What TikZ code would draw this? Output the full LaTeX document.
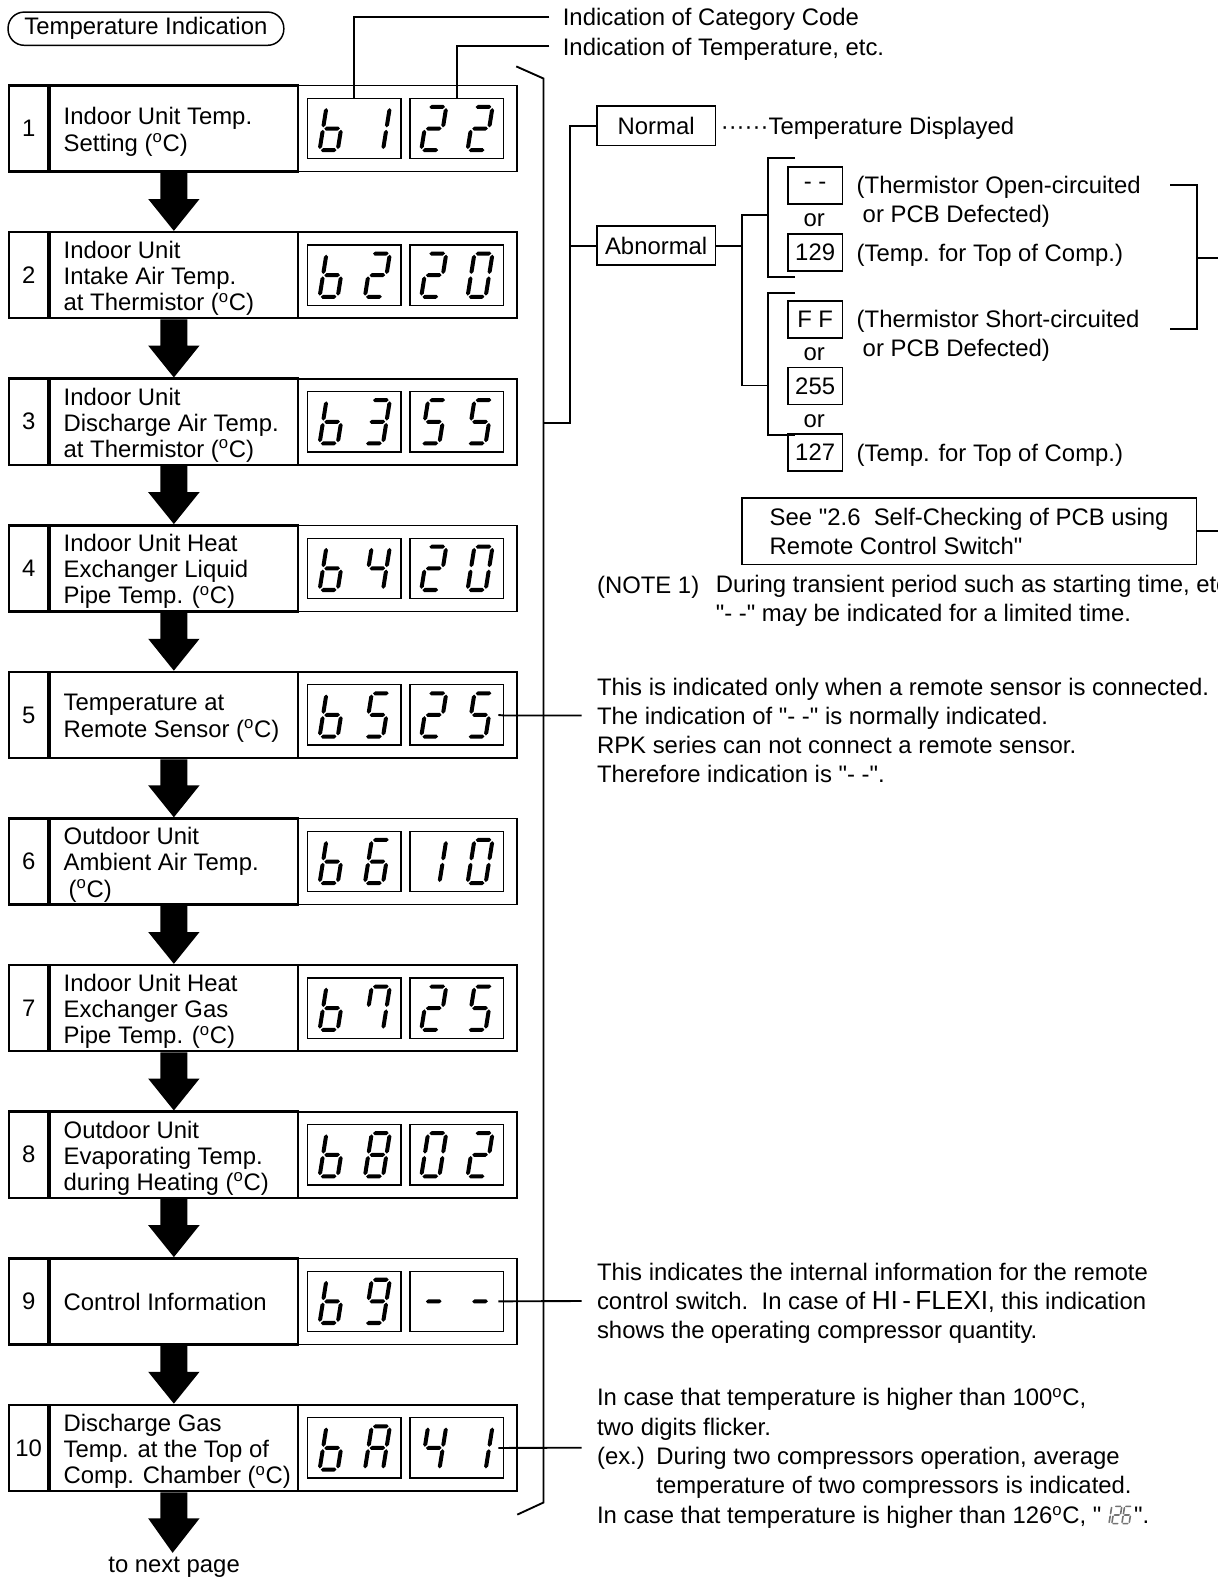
\documentclass[tikz,border=0pt]{standalone}
\usepackage{fontspec}
\setmainfont{Liberation Sans}
\usetikzlibrary{calc}

\newcommand\degC{\textsuperscript{o}C}
\newcommand\qmark{\textquotedbl}

% seven-segment strokes (local units, y pointing down)
\newcommand\SSa{\fill (-7.8,-21.5) -- (-5.8,-23.5) -- (5.8,-23.5) -- (7.8,-21.5) -- (5.8,-19.5) -- (-5.8,-19.5) -- cycle;}
\newcommand\SSg{\fill (-7.8,0) -- (-5.8,-2) -- (5.8,-2) -- (7.8,0) -- (5.8,2) -- (-5.8,2) -- cycle;}
\newcommand\SSd{\fill (-7.8,21.5) -- (-5.8,19.5) -- (5.8,19.5) -- (7.8,21.5) -- (5.8,23.5) -- (-5.8,23.5) -- cycle;}
\newcommand\SSf{\fill (-9,-20.3) -- (-7,-18.3) -- (-7,-3.2) -- (-9,-1.2) -- (-11,-3.2) -- (-11,-18.3) -- cycle;}
\newcommand\SSe{\fill (-9,1.2) -- (-7,3.2) -- (-7,18.3) -- (-9,20.3) -- (-11,18.3) -- (-11,3.2) -- cycle;}
\newcommand\SSb{\fill (9,-20.3) -- (11,-18.3) -- (11,-3.2) -- (9,-1.2) -- (7,-3.2) -- (7,-18.3) -- cycle;}
\newcommand\SSc{\fill (9,1.2) -- (11,3.2) -- (11,18.3) -- (9,20.3) -- (7,18.3) -- (7,3.2) -- cycle;}

% glyphs
\newcommand\Gb{\SSc\SSd\SSe\SSf\SSg}
\newcommand\Gone{\SSb\SSc}
\newcommand\Gtwo{\SSa\SSb\SSg\SSe\SSd}
\newcommand\Gthree{\SSa\SSb\SSg\SSc\SSd}
\newcommand\Gfour{\SSf\SSg\SSb\SSc}
\newcommand\Gfive{\SSa\SSf\SSg\SSc\SSd}
\newcommand\Gsix{\SSa\SSf\SSg\SSe\SSd\SSc}
\newcommand\Gseven{\SSa\SSb\SSc\SSf}
\newcommand\Geight{\SSa\SSb\SSc\SSd\SSe\SSf\SSg}
\newcommand\Gnine{\SSa\SSb\SSc\SSd\SSf\SSg}
\newcommand\Gzero{\SSa\SSb\SSc\SSd\SSe\SSf}
\newcommand\GA{\SSa\SSb\SSc\SSe\SSf\SSg}
\newcommand\Gdash{\SSg}

\newcommand\SSdigit[2]{\begin{scope}[shift={#1},xslant=0.16]#2\end{scope}}
\newcommand\SSsmall[2]{\begin{scope}[shift={#1},scale=0.4,xslant=0.16,black!55]#2\end{scope}}

% one row of the flow: number, label, two display windows
\newcommand\flowstep[7]{%
  \pgfmathsetmacro\yc{127.75+(#1-1)*145.67}
  \node[numcell] (n#1) at (28.5,\yc) {#1};
  \node[labcell] (l#1) at (48,\yc) {};
  \node[steplabel,yshift=#7] (t#1) at (63,\yc) {#2};
  \node[dispcell] (d#1) at (295,\yc) {};
  \node[digbox] (a#1) at (352,\yc) {};
  \node[digbox] (b#1) at (454,\yc) {};
  \SSdigit{(330,\yc)}{#3}
  \SSdigit{(375,\yc)}{#4}
  \SSdigit{(431,\yc)}{#5}
  \SSdigit{(477,\yc)}{#6}
}

\newcommand\flowarrow[2]{%
  \fill ($(#1.south)+(-13.5,0)$) -- ($(#1.south)+(13.5,0)$) -- ($(#1.south)+(13.5,26)$)
    -- ($(#1.south)+(25.5,26)$) -- (#2) -- ($(#1.south)+(-25.5,26)$)
    -- ($(#1.south)+(-13.5,26)$) -- cycle;}

\begin{document}
\begin{tikzpicture}[x=0.75pt,y=-0.75pt,
  every node/.style={font=\fontsize{17.8pt}{21.75pt}\selectfont,inner sep=0pt},
  numcell/.style={draw,line width=1.9pt,minimum width=29.25pt,minimum height=64.1pt},
  labcell/.style={draw,line width=1.9pt,minimum width=185.25pt,minimum height=64.1pt,anchor=west},
  steplabel/.style={anchor=west,align=left,font=\fontsize{17.8pt}{19.5pt}\selectfont},
  dispcell/.style={draw,line width=1.2pt,minimum width=163.5pt,minimum height=64.1pt,anchor=west},
  digbox/.style={draw,line width=1pt,minimum width=69.75pt,minimum height=45pt},
  conn/.style={line width=1.4pt},
  smallbox/.style={draw,line width=1.2pt,minimum width=40.5pt,minimum height=27.75pt},
  statebox/.style={draw,line width=1.3pt,minimum width=88.5pt,minimum height=29.25pt},
  txt/.style={anchor=west,yshift=-2pt},
  note/.style={anchor=west,align=left,yshift=-1.4pt}]

\useasboundingbox (0,0) rectangle (1210,1568);

% heading
\node[draw,line width=1.1pt,rounded corners=12pt,minimum width=205.5pt,minimum height=24.75pt]
  (title) at (145,28.5) {Temperature Indication};

% the ten display steps
\flowstep{1}{Indoor Unit Temp.\\Setting (\degC)}{\Gb}{\Gone}{\Gtwo}{\Gtwo}{-2.4pt}
\flowstep{2}{Indoor Unit\\Intake Air Temp.\\at Thermistor (\degC)}{\Gb}{\Gtwo}{\Gtwo}{\Gzero}{-2.4pt}
\flowstep{3}{Indoor Unit\\Discharge Air Temp.\\at Thermistor (\degC)}{\Gb}{\Gthree}{\Gfive}{\Gfive}{-2.4pt}
\flowstep{4}{Indoor Unit Heat\\Exchanger Liquid\\Pipe Temp. (\degC)}{\Gb}{\Gfour}{\Gtwo}{\Gzero}{-2.4pt}
\flowstep{5}{Temperature at\\Remote Sensor (\degC)}{\Gb}{\Gfive}{\Gtwo}{\Gfive}{-2.4pt}
\flowstep{6}{Outdoor Unit\\Ambient Air Temp.\\\hspace*{3.75pt}(\degC)}{\Gb}{\Gsix}{\Gone}{\Gzero}{-2.4pt}
\flowstep{7}{Indoor Unit Heat\\Exchanger Gas\\Pipe Temp. (\degC)}{\Gb}{\Gseven}{\Gtwo}{\Gfive}{-2.4pt}
\flowstep{8}{Outdoor Unit\\Evaporating Temp.\\during Heating (\degC)}{\Gb}{\Geight}{\Gzero}{\Gtwo}{-2.4pt}
\flowstep{9}{Control Information}{\Gb}{\Gnine}{\Gdash}{\Gdash}{-0.2pt}
\flowstep{10}{Discharge Gas\\Temp. at the Top of\\Comp. Chamber (\degC)}{\Gb}{\GA}{\Gfour}{\Gone}{-2.4pt}

\foreach \i [evaluate=\i as \j using int(\i+1)] in {1,...,9} {\flowarrow{l\i}{l\j.north}}
\coordinate (tip) at (171.5,1543);
\flowarrow{l10}{tip}
\node[yshift=-1.5pt] (next) at (173,1555) {to next page};

% leaders to the display windows
\node[txt] (cat) at (559,17) {Indication of Category Code};
\node[txt] (tmp) at (559,46) {Indication of Temperature, etc.};
\coordinate (catL) at (546,17);
\coordinate (tmpL) at (546,46);
\draw[conn] (catL) -| (a1.north);
\draw[conn] (tmpL) -| (b1.north);

% bracket grouping the temperature steps
\coordinate (bt0) at (513,66);
\coordinate (bt1) at (540,78);
\coordinate (bb1) at (540,1493);
\coordinate (bb0) at (514,1505);
\draw[conn] (bt0) -- (bt1) -- (bb1) -- (bb0);

% normal / abnormal branch
\node[statebox] (normal) at (652,125) {Normal};
\node[statebox] (abn) at (652,244) {Abnormal};
\node[txt] (disp) at (716,125) {\textperiodcentered\textperiodcentered\textperiodcentered\textperiodcentered\textperiodcentered\textperiodcentered Temperature Displayed};
\coordinate (j3) at (566,420);
\coordinate (k3) at (540,420);
\draw[conn] (normal.west) -| (j3) -- (k3);
\draw[conn] (abn.west) -- (abn.west -| j3);

\coordinate (abj) at (737,244);
\coordinate (g1) at (763,214);
\coordinate (g2) at (763,383);
\draw[conn] (abn.east) -- (abj);
\draw[conn] (g1) -| (abj);
\draw[conn] (g2) -| (abj);
\draw[conn] (790,157) -- (763,157) -- (763,275) -- (790,275);
\draw[conn] (790,291) -- (763,291) -- (763,432) -- (790,432);

\node[smallbox] (v1) at (810,184.5) {- -};
\node[txt,anchor=center] (or1) at (809,216) {or};
\node[smallbox] (v2) at (810,251) {129};
\node[smallbox] (v3) at (810,317.5) {F F};
\node[txt,anchor=center] (or2) at (809,349) {or};
\node[smallbox] (v4) at (810,383.5) {255};
\node[txt,anchor=center] (or3) at (809,416) {or};
\node[smallbox] (v5) at (810,449.5) {127};

\node[note] (o1) at (851,198.5) {(Thermistor Open-circuited\\\hspace*{4.5pt}or PCB Defected)};
\node[txt] (o2) at (851,251) {(Temp. for Top of Comp.)};
\node[note] (o3) at (851,331.5) {(Thermistor Short-circuited\\\hspace*{4.5pt}or PCB Defected)};
\node[txt] (o4) at (851,449.5) {(Temp. for Top of Comp.)};

\coordinate (rb0) at (1163,184);
\coordinate (rb1) at (1189,184);
\coordinate (rb2) at (1189,327);
\coordinate (rb3) at (1163,327);
\coordinate (rbm) at (1189,256);
\coordinate (rbo) at (1215,256);
\draw[conn] (rb0) -- (rb1) -- (rb2) -- (rb3);
\draw[conn] (rbm) -- (rbo);

\node[draw,line width=1.3pt,minimum width=339pt,minimum height=49.5pt,align=left]
  (see) at (963,528) {See \qmark2.6\ \ Self-Checking of PCB using\\Remote Control Switch\qmark};
\coordinate (seeo) at (1215,528);
\draw[conn] (see.east) -- (seeo);

\node[txt] (nt) at (593,581) {(NOTE 1)};
\node[note] (ntx) at (711,595.5) {During transient period such as starting time, etc.\\\qmark- -\qmark{} may be indicated for a limited time.};

% remarks on steps 5, 9 and 10
\coordinate (e5) at (578,711);
\draw[conn] ([xshift=-4.5pt]b5.east) -- (e5 -| b5.east) -- (e5);
\node[note] (r5) at (593,724) {This is indicated only when a remote sensor is connected.\\The indication of \qmark- -\qmark{} is normally indicated.\\RPK series can not connect a remote sensor.\\Therefore indication is \qmark- -\qmark.};

\coordinate (e9) at (578,1292.75);
\draw[conn] ([xshift=-4.5pt]b9.east) -- (e9);
\node[note] (r9) at (593,1293) {This indicates the internal information for the remote\\control switch.\ \ In case of {\fontsize{19.5pt}{21.75pt}\selectfont HI\,-\,FLEXI}, this indication\\shows the operating compressor quantity.};

\coordinate (e10) at (578,1438.5);
\draw[conn] ([xshift=-4.5pt]b10.east) -- (e10);
\node[note] (r10) at (593,1432.5) {In case that temperature is higher than 100\degC,\\two digits flicker.\\\makebox[44.25pt][l]{(ex.)}During two compressors operation, average\\\hspace*{44.25pt}temperature of two compressors is indicated.};
\node[txt] (r10e) at (593,1505) {In case that temperature is higher than 126\degC, \qmark\ };
\SSsmall{($(r10e.base east)+(5,-8.5)$)}{\Gone}
\SSsmall{($(r10e.base east)+(15,-8.5)$)}{\Gtwo}
\SSsmall{($(r10e.base east)+(25,-8.5)$)}{\Gsix}
\node[anchor=base west] (r10q) at ($(r10e.base east)+(32,0)$) {\qmark.};

\end{tikzpicture}
\end{document}
